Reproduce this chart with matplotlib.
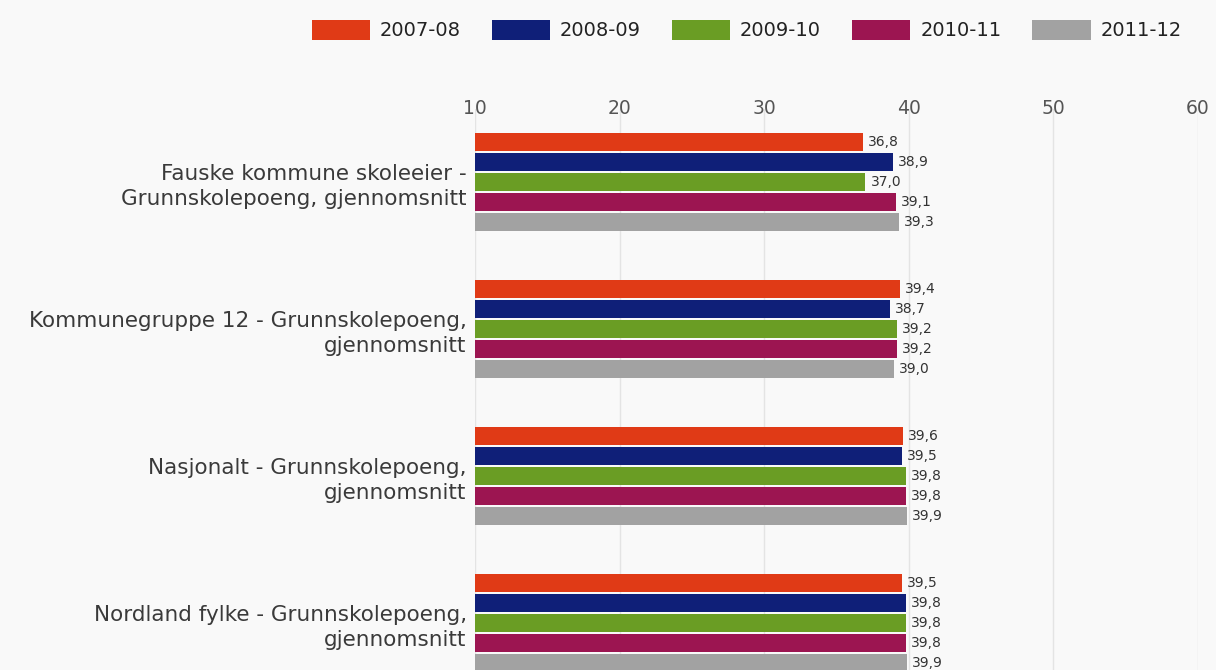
import matplotlib.pyplot as plt
import numpy as np

# categories (top to bottom) and series values per season
categories = ["Fauske kommune skoleeier -\nGrunnskolepoeng, gjennomsnitt",
              "Kommunegruppe 12 - Grunnskolepoeng,\ngjennomsnitt",
              "Nasjonalt - Grunnskolepoeng,\ngjennomsnitt",
              "Nordland fylke - Grunnskolepoeng,\ngjennomsnitt"]
seasons = ["2007-08", "2008-09", "2009-10", "2010-11", "2011-12"]
v_2007_08 = [36.8, 39.4, 39.6, 39.5]
v_2008_09 = [38.9, 38.7, 39.5, 39.8]
v_2009_10 = [37.0, 39.2, 39.8, 39.8]
v_2010_11 = [39.1, 39.2, 39.8, 39.8]
v_2011_12 = [39.3, 39.0, 39.9, 39.9]
series = [v_2007_08, v_2008_09, v_2009_10, v_2010_11, v_2011_12]
colors = ["#e03a16", "#0f1f78", "#6a9d24", "#9c1551", "#a2a2a2"]
xticks = [10, 20, 30, 40, 50, 60]

bg = "#f9f9f9"
fig = plt.figure(figsize=(12.16, 6.70), dpi=100, facecolor=bg)
ax = fig.add_axes([475 / 1216, 1 - 696.5 / 670, 723 / 1216, 588 / 670])
ax.set_facecolor(bg)

y = np.arange(len(categories))
pitch = 0.136
for i, (vals, col, lab) in enumerate(zip(series, colors, seasons)):
    pos = y + (i - 2) * pitch
    ax.barh(pos, vals, height=0.128, color=col, label=lab, zorder=2)
    for p, v in zip(pos, vals):
        ax.text(v + 0.35, p, f"{v:.1f}".replace(".", ","), va="center", ha="left",
                fontsize=10, color="#333333", zorder=3)

ax.set_xlim(10, 60)
ax.set_ylim(len(categories) - 0.5, -0.5)
ax.xaxis.tick_top()
ax.set_xticks(xticks)
ax.set_xticklabels([str(t) for t in xticks])
ax.tick_params(axis="x", length=0, pad=-7, labelsize=13.5, labelcolor="#555555")
ax.set_yticks(y)
ax.set_yticklabels(categories, fontsize=15.5, color="#3a3a3a", linespacing=1.3)
ax.tick_params(axis="y", length=0, pad=6)
for s in ax.spines.values():
    s.set_visible(False)
ax.grid(axis="x", color="#e4e4e4", linewidth=1, zorder=0)

fig.legend(loc="center", bbox_to_anchor=(0.614, 0.955), ncol=5, frameon=False,
           fontsize=14, handlelength=3.0, handleheight=1.2, handletextpad=0.5,
           columnspacing=1.6, labelcolor="#222222")

fig.savefig("out.png", dpi=100, facecolor=bg)
